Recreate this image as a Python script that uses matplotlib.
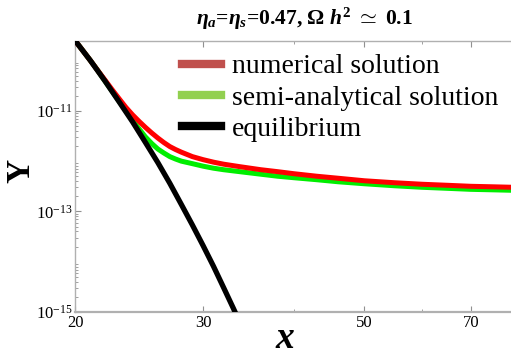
import matplotlib
matplotlib.use("Agg")
import matplotlib.pyplot as plt
from matplotlib.lines import Line2D
from matplotlib.ticker import FixedLocator, FixedFormatter, NullFormatter

plt.rcParams['font.family'] = ['Liberation Serif', 'DejaVu Serif']
plt.rcParams['mathtext.fontset'] = 'custom'
plt.rcParams['mathtext.rm'] = 'Liberation Serif:bold'
plt.rcParams['mathtext.it'] = 'Liberation Serif:italic:bold'
plt.rcParams['mathtext.bf'] = 'Liberation Serif:bold'

# Data
x_num = [20, 20.5, 21, 21.5, 22, 22.5, 23, 23.5, 24, 24.5, 25, 25.5, 26, 26.5, 27, 27.5,
         28, 29, 30, 31, 32, 33.7, 36, 38, 40, 43, 46, 50, 55, 60, 65, 70, 75, 80]
y_num = [2.51e-10, 1.58e-10, 1.0e-10, 6.31e-11, 4.07e-11, 2.63e-11, 1.74e-11, 1.17e-11,
         8.32e-12, 6.17e-12, 4.68e-12, 3.63e-12, 2.88e-12, 2.34e-12, 1.95e-12, 1.70e-12,
         1.51e-12, 1.23e-12, 1.07e-12, 9.55e-13, 8.71e-13, 7.76e-13, 6.76e-13, 6.17e-13,
         5.62e-13, 5.01e-13, 4.57e-13, 4.07e-13, 3.72e-13, 3.47e-13, 3.31e-13, 3.16e-13,
         3.09e-13, 3.02e-13]

x_semi = [20, 20.5, 21, 21.5, 22, 22.5, 23, 23.5, 24, 24.5, 25, 25.5, 26, 26.5, 27, 27.5,
          28, 29, 30, 31, 32, 33.7, 36, 38, 40, 43, 46, 50, 55, 60, 65, 70, 75, 80]
y_semi = [2.51e-10, 1.58e-10, 1.0e-10, 6.31e-11, 3.89e-11, 2.45e-11, 1.55e-11, 1.0e-11,
          6.46e-12, 4.37e-12, 3.02e-12, 2.24e-12, 1.74e-12, 1.45e-12, 1.23e-12, 1.10e-12,
          1.0e-12, 8.91e-13, 7.94e-13, 7.24e-13, 6.76e-13, 6.17e-13, 5.50e-13, 5.01e-13,
          4.68e-13, 4.27e-13, 3.89e-13, 3.55e-13, 3.24e-13, 3.02e-13, 2.88e-13, 2.75e-13,
          2.69e-13, 2.63e-13]

x_eq = [20, 21, 22, 23, 24, 25, 26, 27, 28, 29, 30, 31, 32, 33, 34]
y_eq = [2.51e-10, 1.0e-10, 3.89e-11, 1.51e-11, 6.03e-12, 2.34e-12, 9.33e-13, 3.63e-13,
        1.38e-13, 5.37e-14, 2.09e-14, 8.13e-15, 3.09e-15, 1.20e-15, 4.68e-16]

legend_labels = ["numerical solution", "semi-analytical solution", "equilibrium"]
xtick_vals = [20, 30, 50, 70]
xtick_labels = ["20", "30", "50", "70"]
xminor_vals = [40, 60]
ytick_vals = [1e-15, 1e-13, 1e-11]
ytick_labels = [r"$\mathdefault{10^{-15}}$", r"$\mathdefault{10^{-13}}$", r"$\mathdefault{10^{-11}}$"]

W, H = 511, 352
fig = plt.figure(figsize=(W / 100, H / 100), dpi=100)
ax = fig.add_axes([75 / W, (H - 312) / H, (W - 75) / W, (312 - 41) / H])

kw = dict(solid_capstyle="butt", solid_joinstyle="round")
ax.plot(x_num, y_num, color="#ff0000", lw=3.6, zorder=3, **kw)
ax.plot(x_semi, y_semi, color="#00ee00", lw=3.6, zorder=2, **kw)
ax.plot(x_eq, y_eq, color="black", lw=3.8, zorder=4, **kw)

ax.set_xscale("log")
ax.set_yscale("log")
ax.set_xlim(20, 79.5)
ax.set_ylim(1e-15, 2.45e-10)

ax.xaxis.set_major_locator(FixedLocator(xtick_vals))
ax.xaxis.set_major_formatter(FixedFormatter(xtick_labels))
ax.xaxis.set_minor_locator(FixedLocator(xminor_vals))
ax.xaxis.set_minor_formatter(NullFormatter())
ax.yaxis.set_major_locator(FixedLocator(ytick_vals))
ax.yaxis.set_major_formatter(FixedFormatter(ytick_labels))
ax.yaxis.set_minor_formatter(NullFormatter())

gray = "#b0b0b0"
for s in ["left", "bottom", "top"]:
    ax.spines[s].set_color(gray)
ax.spines["bottom"].set_linewidth(1.6)
ax.spines["left"].set_linewidth(1.0)
ax.spines["top"].set_linewidth(1.0)
ax.spines["right"].set_visible(False)

ax.tick_params(which="both", direction="in", color="#909090", labelsize=12,
               top=True, right=False, pad=2)
ax.tick_params(which="major", length=4, width=0.8)
ax.tick_params(which="minor", length=2, width=0.6)

fig.text(285 / W, 1 - 348 / H, "x", fontsize=27, fontweight="bold", fontstyle="italic",
         ha="center", va="baseline")
fig.text(21 / W, 1 - 171 / H, "Y", fontsize=24, fontweight="bold", rotation=90,
         ha="center", va="center")

fig.text(304 / W, 1 - 19 / H, r"$\eta_a$=$\eta_s$=0.47, $\Omega$ $h^2$ $\simeq$ 0.1",
         ha="center", va="center", fontsize=15.5, fontweight="bold")

handles = [Line2D([], [], color="#c0504d", lw=6),
           Line2D([], [], color="#92d050", lw=6),
           Line2D([], [], color="black", lw=6)]
leg = fig.legend(handles, legend_labels, loc="upper left",
                 bbox_to_anchor=(182 / W, 1 - 54 / H),
                 frameon=False, fontsize=20, handlelength=1.42, handletextpad=0.38,
                 labelspacing=0.21, borderaxespad=0, borderpad=0)

fig.savefig("out.png", dpi=100)
